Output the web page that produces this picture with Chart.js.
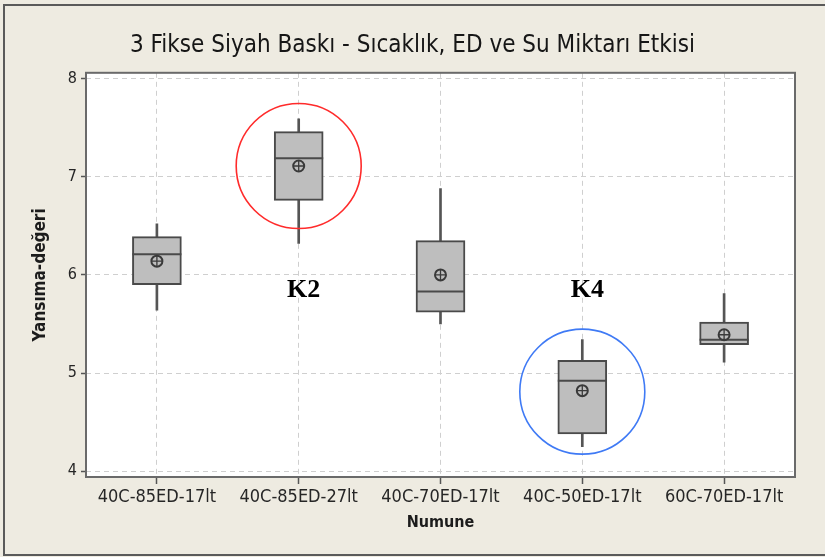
<!DOCTYPE html>
<html>
<head>
<meta charset="utf-8">
<script src="https://cdn.jsdelivr.net/npm/chart.js@4/dist/chart.umd.min.js"></script>
<style>
  html, body { margin: 0; padding: 0; background: #eeebe1; }
  canvas { display: block; }
</style>
</head>
<body>
<canvas id="c" width="825" height="557"></canvas>
<script>
// Sample groups (Numune) and box-plot statistics of Yansıma-değeri
const categories = ['40C-85ED-17lt', '40C-85ED-27lt', '40C-70ED-17lt', '40C-50ED-17lt', '60C-70ED-17lt'];
const whiskerLow  = [5.64, 6.32, 5.50, 4.25, 5.11];
const q1          = [5.90, 6.76, 5.62, 4.38, 5.29];
const median      = [6.21, 7.19, 5.83, 4.92, 5.34];
const q3          = [6.39, 7.46, 6.35, 5.13, 5.52];
const whiskerHigh = [6.52, 7.59, 6.88, 5.34, 5.81];
const mean        = [6.14, 7.11, 6.00, 4.82, 5.39];
const yTicks      = [4, 5, 6, 7, 8];

// Highlighted groups: circled around their mean, with a text marker
const highlightIndex = [1, 3];
const highlightValue = [7.11, 4.81];
const markerLabels   = ['K2', 'K4'];
const markerValue    = [5.84, 5.84];

const FONT = "'DejaVu Sans Condensed', 'DejaVu Sans', sans-serif";
const BG = '#eeebe1';

// Page background, white plot area and outer frame
const backdrop = {
  id: 'backdrop',
  beforeDraw(chart) {
    const { ctx, chartArea: a, width, height } = chart;
    ctx.save();
    ctx.fillStyle = BG;
    ctx.fillRect(0, 0, width, height);
    ctx.strokeStyle = '#5a5a5a';
    ctx.lineWidth = 2;
    ctx.strokeRect(4, 5, width + 4, height - 7);
    ctx.fillStyle = '#ffffff';
    ctx.fillRect(a.left, a.top, a.right - a.left, a.bottom - a.top);
    ctx.restore();
  },
  afterDatasetsDraw(chart) {
    const { ctx, chartArea: a } = chart;
    ctx.save();
    ctx.strokeStyle = '#6a6a6a';
    ctx.lineWidth = 2;
    ctx.strokeRect(a.left, a.top, a.right - a.left, a.bottom - a.top);
    ctx.restore();
  }
};

// Circles and K-labels placed through the chart scales
const highlights = {
  id: 'highlights',
  afterDatasetsDraw(chart) {
    const { ctx, scales: { x, y } } = chart;
    const colors = ['#ff2b2b', '#3f7af5'];
    ctx.save();
    highlightIndex.forEach((idx, k) => {
      const cx = x.getPixelForValue(idx);
      const cy = y.getPixelForValue(highlightValue[k]);
      ctx.beginPath();
      ctx.strokeStyle = colors[k];
      ctx.lineWidth = 1.6;
      ctx.arc(cx, cy, 62.5, 0, Math.PI * 2);
      ctx.stroke();
      ctx.fillStyle = '#000';
      ctx.font = "bold 26px 'Liberation Serif', serif";
      ctx.textAlign = 'center';
      ctx.textBaseline = 'middle';
      ctx.fillText(markerLabels[k], cx + 5, y.getPixelForValue(markerValue[k]));
    });
    ctx.restore();
  }
};

const boxColor = '#bebebe';
const lineColor = '#4a4a4a';

new Chart(document.getElementById('c'), {
  type: 'bar',
  data: {
    labels: categories,
    datasets: [
      {
        label: 'whisker-low',
        data: whiskerLow.map((v, i) => [v, q1[i]]),
        backgroundColor: '#555555',
        barThickness: 2,
        grouped: false,
        order: 6
      },
      {
        label: 'whisker-high',
        data: whiskerHigh.map((v, i) => [q3[i], v]),
        backgroundColor: '#555555',
        barThickness: 2,
        grouped: false,
        order: 5
      },
      {
        label: 'box',
        data: q1.map((v, i) => [v, q3[i]]),
        backgroundColor: boxColor,
        borderColor: lineColor,
        borderWidth: 2,
        borderSkipped: false,
        barThickness: 49,
        grouped: false,
        order: 4
      },
      {
        type: 'line',
        label: 'median',
        data: median,
        showLine: false,
        pointStyle: 'line',
        pointRadius: 24.5,
        pointBorderWidth: 2,
        borderColor: lineColor,
        order: 3
      },
      {
        type: 'line',
        label: 'mean',
        data: mean,
        showLine: false,
        pointStyle: 'circle',
        pointRadius: 5.5,
        pointBorderWidth: 2,
        borderColor: '#3a3a3a',
        backgroundColor: 'rgba(0,0,0,0)',
        order: 2
      },
      {
        type: 'line',
        label: 'mean-cross',
        data: mean,
        showLine: false,
        pointStyle: 'cross',
        pointRadius: 5.5,
        pointBorderWidth: 1.3,
        borderColor: '#3a3a3a',
        order: 1
      }
    ]
  },
  options: {
    responsive: false,
    animation: false,
    events: [],
    layout: { padding: { left: 0, right: 0, top: 0, bottom: 0 } },
    plugins: {
      legend: { display: false },
      tooltip: { enabled: false },
      title: {
        display: true,
        text: '3 Fikse Siyah Baskı - Sıcaklık, ED ve Su Miktarı Etkisi',
        color: '#161616',
        font: { family: FONT, size: 24, weight: 'normal' },
        padding: { top: 31, bottom: 13 }
      }
    },
    scales: {
      x: {
        offset: true,
        grid: {
          offset: false,
          color: '#cfcfcf',
          lineWidth: 1,
          drawTicks: true,
          tickLength: 7,
          tickColor: '#555555',
          tickWidth: 1.5,
          tickBorderDash: []
        },
        border: { display: false, dash: [5, 4] },
        ticks: {
          color: '#262626',
          font: { family: FONT, size: 18 },
          padding: 3,
          maxRotation: 0,
          autoSkip: false
        },
        title: {
          display: true,
          text: 'Numune',
          color: '#1c1c1c',
          font: { family: FONT, size: 16, weight: 'bold' },
          padding: { top: 0, bottom: 25 }
        },
        afterFit(scale) { scale.height = 80; }
      },
      y: {
        min: 3.94,
        max: 8.06,
        afterBuildTicks(scale) { scale.ticks = yTicks.map(v => ({ value: v })); },
        grid: {
          color: '#cfcfcf',
          lineWidth: 1,
          drawTicks: true,
          tickLength: 5,
          tickColor: '#555555',
          tickWidth: 1.5,
          tickBorderDash: []
        },
        border: { display: false, dash: [5, 4] },
        ticks: {
          color: '#262626',
          font: { family: FONT, size: 16 },
          padding: 4
        },
        title: {
          display: true,
          text: 'Yansıma-değeri',
          color: '#1c1c1c',
          font: { family: FONT, size: 17, weight: 'bold' },
          padding: { top: 30, bottom: 0 }
        },
        afterFit(scale) { scale.width = 86; }
      },
      // empty right margin so the title centres on the full page
      yMargin: {
        position: 'right',
        min: 3.94,
        max: 8.06,
        grid: { drawOnChartArea: false, drawTicks: false },
        border: { display: false },
        ticks: { display: false },
        afterFit(scale) { scale.width = 30; }
      }
    }
  },
  plugins: [backdrop, highlights]
});
</script>
</body>
</html>
